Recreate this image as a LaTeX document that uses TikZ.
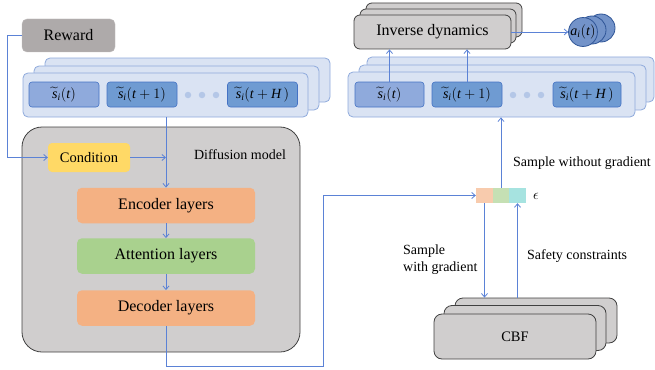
\documentclass[tikz,border=0pt]{standalone}
\usepackage{fontspec}
\usepackage{amsmath}
\setmainfont{Liberation Serif}
\usetikzlibrary{arrows.meta}
\definecolor{connc}{HTML}{5B82D6}
\definecolor{stackfill}{HTML}{DAE3F3}
\definecolor{stackdraw}{HTML}{8FAADC}
\definecolor{cellAfill}{HTML}{8FAADC}
\definecolor{cellBfill}{HTML}{6F9BD2}
\definecolor{celldraw}{HTML}{4472C4}
\definecolor{dotfill}{HTML}{B4C7E7}
\definecolor{greyfill}{HTML}{D0CECE}
\definecolor{greydraw}{HTML}{404040}
\definecolor{rewardfill}{HTML}{AEAAAA}
\definecolor{condfill}{HTML}{FFD966}
\definecolor{orangefill}{HTML}{F4B183}
\definecolor{greenfill}{HTML}{A9D18E}
\definecolor{epsA}{HTML}{F8CBAD}
\definecolor{epsB}{HTML}{C5E0B4}
\definecolor{epsC}{HTML}{A6E3E0}
\definecolor{circfill}{HTML}{7393C9}
\definecolor{circdraw}{HTML}{2F5597}
\newcommand{\stil}{\widetilde{\text{\itshape s}}_{\text{\itshape i}}}
\newcommand{\vt}{\text{\itshape t}}
\newcommand{\vH}{\text{\itshape H}}
\tikzset{
  conn/.style={draw=connc, line width=0.8pt, -{Straight Barb[length=3.5pt,width=6pt]}},
  plainconn/.style={draw=connc, line width=0.8pt},
  box/.style={rectangle, inner sep=0pt, font=\fontsize{16}{18}\selectfont},
  stackbox/.style={box, fill=stackfill, draw=stackdraw, line width=0.8pt, rounded corners=5pt, minimum width=285pt, minimum height=44pt},
  cellA/.style={box, fill=cellAfill, draw=celldraw, line width=0.6pt, rounded corners=3pt, minimum width=70pt, minimum height=25pt, font=\fontsize{14}{16}\selectfont},
  cellB/.style={cellA, fill=cellBfill},
  dotc/.style={circle, fill=dotfill, inner sep=0pt, minimum size=6.5pt},
  greybox/.style={box, fill=greyfill, draw=greydraw, line width=0.8pt, rounded corners=6pt},
  layerbox/.style={box, rounded corners=5pt, minimum width=178pt, minimum height=35.5pt},
  epscell/.style={rectangle, inner sep=0pt, minimum width=16.5pt, minimum height=15pt},
  lab/.style={font=\fontsize{14}{16.5}\selectfont, inner sep=0pt},
  circ/.style={circle, fill=circfill, draw=circdraw, line width=0.8pt, minimum size=28pt, inner sep=0pt, font=\fontsize{14}{16}\selectfont},
}
\begin{document}
\begin{tikzpicture}[x=1pt,y=-1pt]
\useasboundingbox (0,0) rectangle (655,369);
% Reward
\node[box, fill=rewardfill, draw=rewardfill!80!white, rounded corners=5pt, minimum width=93pt, minimum height=33pt] (reward) at (68.5,35.5) {Reward};
% left stack
\node[stackbox] (L3) at (187.5,80) {};
\node[stackbox] (L2) at (176.5,88) {};
\node[stackbox] (L1) at (165.5,95) {};
\node[cellA] (Lc1) at (64,94.5) {$\stil(\vt)$};
\node[cellB] (Lc2) at (142,94.5) {$\stil(\vt+1)$};
\node[cellB] (Lc3) at (262.5,94.5) {$\stil(\vt+\vH\,)$};
\node[dotc] (Ld1) at (188,95) {};
\node[dotc] (Ld2) at (202,95) {};
\node[dotc] (Ld3) at (216,95) {};
% diffusion model
\node[box, fill=greyfill, draw=greydraw, line width=0.8pt, rounded corners=20pt, minimum width=278pt, minimum height=225pt] (diff) at (161,239.5) {};
\node[lab] (difflab) at (240,155) {Diffusion model};
\node[box, fill=condfill, rounded corners=4pt, minimum width=82pt, minimum height=29pt, font=\fontsize{14.5}{17}\selectfont] (cond) at (89,157.5) {Condition};
\node[layerbox, fill=orangefill] (enc) at (166,205.5) {Encoder layers};
\node[layerbox, fill=greenfill] (att) at (166,256) {Attention layers};
\node[layerbox, fill=orangefill] (dec) at (166,308) {Decoder layers};
% right stack
\node[stackbox, minimum width=287pt, minimum height=45pt] (R3) at (510.5,79.5) {};
\node[stackbox, minimum width=287pt, minimum height=45pt] (R2) at (502.5,87.5) {};
\node[stackbox, minimum width=287pt, minimum height=45pt] (R1) at (491.5,94.5) {};
\node[cellA, minimum width=69pt] (Rc1) at (389.5,94.5) {$\stil(\vt)$};
\node[cellB] (Rc2) at (467,94.5) {$\stil(\vt+1)$};
\node[cellB, minimum width=68pt] (Rc3) at (587,94.5) {$\stil(\vt+\vH\,)$};
\node[dotc] (Rd1) at (513,95) {};
\node[dotc] (Rd2) at (527,95) {};
\node[dotc] (Rd3) at (541,95) {};
% inverse dynamics
\node[greybox, minimum width=156pt, minimum height=34pt] (inv3) at (444,20) {};
\node[greybox, minimum width=156pt, minimum height=34pt] (inv2) at (438,26) {};
\node[greybox, minimum width=157pt, minimum height=34pt] (inv) at (432.5,32) {Inverse dynamics};
% action circles
\node[circ] (a3) at (601,28) {};
\node[circ] (a2) at (592,30) {};
\node[circ] (a1) at (583,32) {$\text{\itshape a}_{\text{\itshape i}}(\vt)$};
% epsilon
\node[epscell, fill=epsA, minimum width=17pt] (e1) at (484.5,195.5) {};
\node[epscell, fill=epsB, minimum width=16pt] (e2) at (501,195.5) {};
\node[epscell, fill=epsC, minimum width=17pt] (e3) at (517.5,195.5) {};
\node[lab] (epslab) at (536,196) {$\epsilon$};
% CBF
\node[greybox, rounded corners=8pt, minimum width=162pt, minimum height=45pt] (cbf3) at (536,320.5) {};
\node[greybox, rounded corners=8pt, minimum width=162pt, minimum height=45pt] (cbf2) at (525,328) {};
\node[greybox, rounded corners=8pt, minimum width=162pt, minimum height=45pt, font=\fontsize{14.5}{17}\selectfont] (cbf) at (515,336.5) {CBF};
% labels
\node[lab, anchor=west] (swog) at (513,163) {Sample without gradient};
\node[lab, anchor=west, align=left] (swg) at (403,259.5) {Sample\\with gradient};
\node[lab, anchor=west] (safe) at (527,256) {Safety constraints};
% connectors
\draw[conn] (reward.west) -- ++(-14,0) |- (cond.west);
\draw[conn] (cond.east) -- (cond.east -| enc.north);
\draw[conn] (L1.south -| enc.north) -- (enc.north);
\draw[conn] (enc.south) -- (att.north);
\draw[conn] (att.south) -- (dec.north);
\coordinate (bend) at (323,366);
\draw[conn] (dec.south) |- (bend) |- (e1.west);
\draw[conn] (e2.north) -- (e2.north |- R1.south);
\draw[conn] (e1.south) -- (e1.south |- cbf3.north);
\draw[conn] (e3.south |- cbf3.north) -- (e3.south);
\draw[conn] (Rc1.north) -- (Rc1.north |- inv.south);
\draw[conn] (Rc2.north) -- (Rc2.north |- inv.south);
\draw[conn] (inv.east) -- (a1.west);
\end{tikzpicture}
\end{document}
